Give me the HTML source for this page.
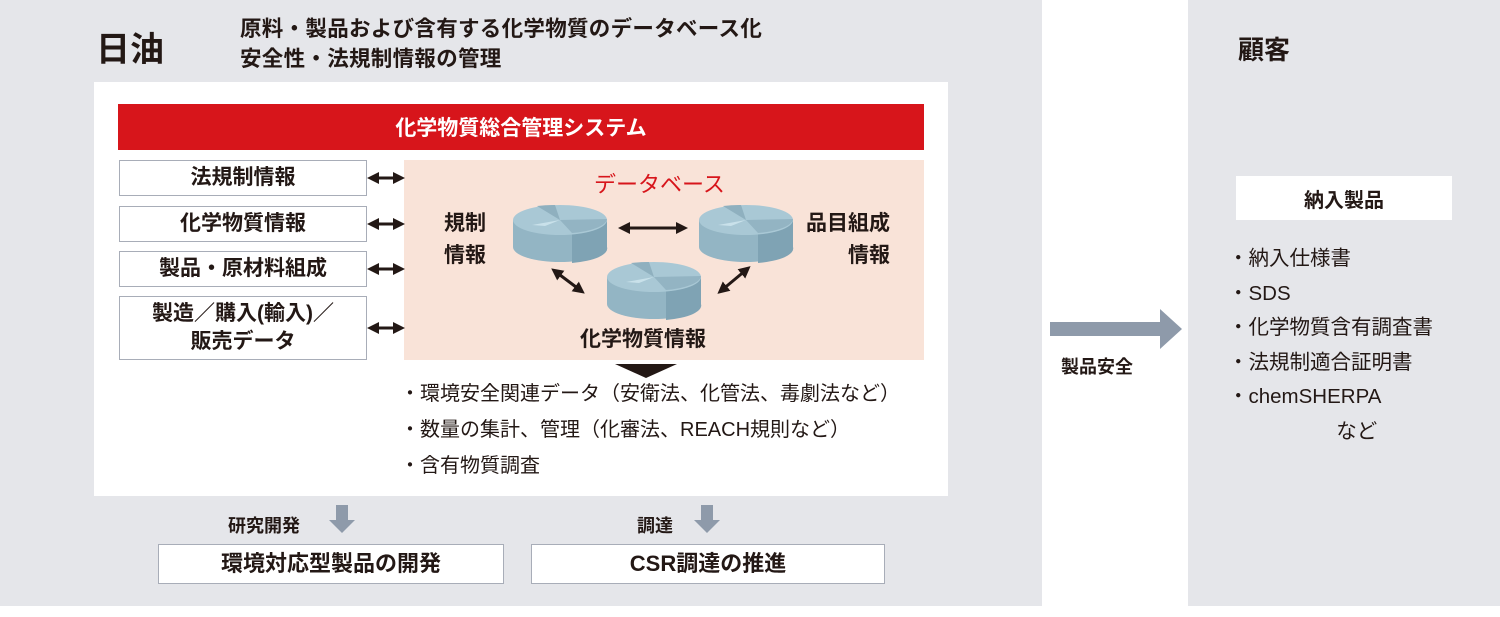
<!DOCTYPE html>
<html><head><meta charset="utf-8"><style>
body{margin:0;width:1500px;height:617px;background:#fff;position:relative;font-family:"Liberation Sans","Noto Sans CJK JP",sans-serif;color:#231815;overflow:hidden}
.a{position:absolute}
.box{position:absolute;background:#fff;border:1px solid #a8adb8;box-sizing:border-box;display:flex;align-items:center;justify-content:center;text-align:center;font-weight:bold;font-size:21px;line-height:28px}
.t{position:absolute;white-space:nowrap}
</style></head><body>
<div class="a" style="left:0;top:0;width:1042px;height:606px;background:#e5e6ea"></div>
<div class="a" style="left:1188px;top:0;width:312px;height:606px;background:#e5e6ea"></div>
<div class="t" style="left:96px;top:22px;font-size:34px;font-weight:bold">日油</div>
<div class="t" style="left:240px;top:14px;font-size:21.5px;font-weight:bold;line-height:30px;letter-spacing:0.3px">原料・製品および含有する化学物質のデータベース化<br>安全性・法規制情報の管理</div>
<div class="a" style="left:94px;top:82px;width:854px;height:414px;background:#fff"></div>
<div class="a" style="left:118px;top:104px;width:806px;height:46px;background:#d7151b;color:#fff;font-size:21px;font-weight:bold;display:flex;align-items:center;justify-content:center">化学物質総合管理システム</div>
<div class="box" style="left:119px;top:160px;width:248px;height:36px">法規制情報</div>
<div class="box" style="left:119px;top:206px;width:248px;height:36px">化学物質情報</div>
<div class="box" style="left:119px;top:251px;width:248px;height:36px">製品・原材料組成</div>
<div class="box" style="left:119px;top:296px;width:248px;height:64px">製造／購入(輸入)／<br>販売データ</div>
<div class="a" style="left:404px;top:160px;width:520px;height:200px;background:#f9e3d8"></div>
<svg class="a" style="left:0;top:0" width="1500" height="617">
<defs><marker id="h" markerWidth="4" markerHeight="4" refX="2" refY="2" orient="auto-start-reverse"><path d="M0,0L4,2L0,4z" fill="#231815"/></marker>
<g id="cyl"><path d="M-47,0 v27 a47,15 0 0 0 94,0 v-27z" fill="#93b5c4"/><path d="M12,13 v30 a47,15 0 0 0 35,-16 v-27 a47,15 0 0 1 -35,13z" fill="#7fa3b4"/><ellipse cx="0" cy="0" rx="47" ry="15" fill="#a9c8d5"/><path d="M0,0 L-5,-15 a47,15 0 0 0 -18,1z" fill="#8fb0bf"/><path d="M0,0 L47,-1 a47,15 0 0 1 -35,14z" fill="#93b4c3"/><path d="M0,0 L-28,5 L-15,6z" fill="#c9e1ea"/></g></defs>
<g stroke="#231815" stroke-width="3" marker-start="url(#h)" marker-end="url(#h)">
<line x1="373" y1="178" x2="399" y2="178"/><line x1="373" y1="224" x2="399" y2="224"/><line x1="373" y1="269" x2="399" y2="269"/><line x1="373" y1="328" x2="399" y2="328"/>
<line x1="624" y1="228" x2="682" y2="228"/><line x1="556" y1="272" x2="580" y2="290"/><line x1="746" y1="270" x2="722" y2="290"/>
</g>
<use href="#cyl" x="560" y="220"/><use href="#cyl" x="746" y="220"/><use href="#cyl" x="654" y="277"/>
<path d="M615,364 L677,364 L646,378z" fill="#231815"/>
<path d="M336,505 h12 v15 h7 l-13,13 l-13,-13 h7z" fill="#8e9aaa"/>
<path d="M701,505 h12 v15 h7 l-13,13 l-13,-13 h7z" fill="#8e9aaa"/>
<path d="M1050,322 h110 v-13 l22,20 l-22,20 v-13 h-110z" fill="#8e9aaa"/>
</svg>
<div class="t" style="left:594px;top:167px;font-size:22px;color:#d7151b">データベース</div>
<div class="t" style="left:444px;top:208px;font-size:21px;font-weight:bold;line-height:32px">規制<br>情報</div>
<div class="t" style="left:806px;top:208px;font-size:21px;font-weight:bold;line-height:32px;text-align:right">品目組成<br>&nbsp;&nbsp;&nbsp;情報</div>
<div class="t" style="left:580px;top:323px;font-size:21px;font-weight:bold">化学物質情報</div>
<div class="t" style="left:400px;top:376px;font-size:20px;line-height:36px">・環境安全関連データ（安衛法、化管法、毒劇法など）<br>・数量の集計、管理（化審法、REACH規則など）<br>・含有物質調査</div>
<div class="t" style="left:228px;top:512px;font-size:18px;font-weight:bold">研究開発</div>
<div class="t" style="left:637px;top:512px;font-size:18px;font-weight:bold">調達</div>
<div class="box" style="left:158px;top:544px;width:346px;height:40px;font-size:22px">環境対応型製品の開発</div>
<div class="box" style="left:531px;top:544px;width:354px;height:40px;font-size:22px">CSR調達の推進</div>
<div class="t" style="left:1061px;top:353px;font-size:18px;font-weight:bold">製品安全</div>
<div class="t" style="left:1238px;top:30px;font-size:26px;font-weight:bold">顧客</div>
<div class="a" style="left:1236px;top:176px;width:216px;height:44px;background:#fff;font-size:20px;font-weight:bold;display:flex;align-items:center;justify-content:center">納入製品</div>
<div class="t" style="left:1228px;top:242px;font-size:20.5px;line-height:34.5px">・納入仕様書<br>・SDS<br>・化学物質含有調査書<br>・法規制適合証明書<br>・chemSHERPA<br>&nbsp;&nbsp;&nbsp;&nbsp;&nbsp;&nbsp;&nbsp;&nbsp;&nbsp;&nbsp;&nbsp;&nbsp;&nbsp;&nbsp;&nbsp;&nbsp;&nbsp;&nbsp;&nbsp;など</div>
</body></html>
